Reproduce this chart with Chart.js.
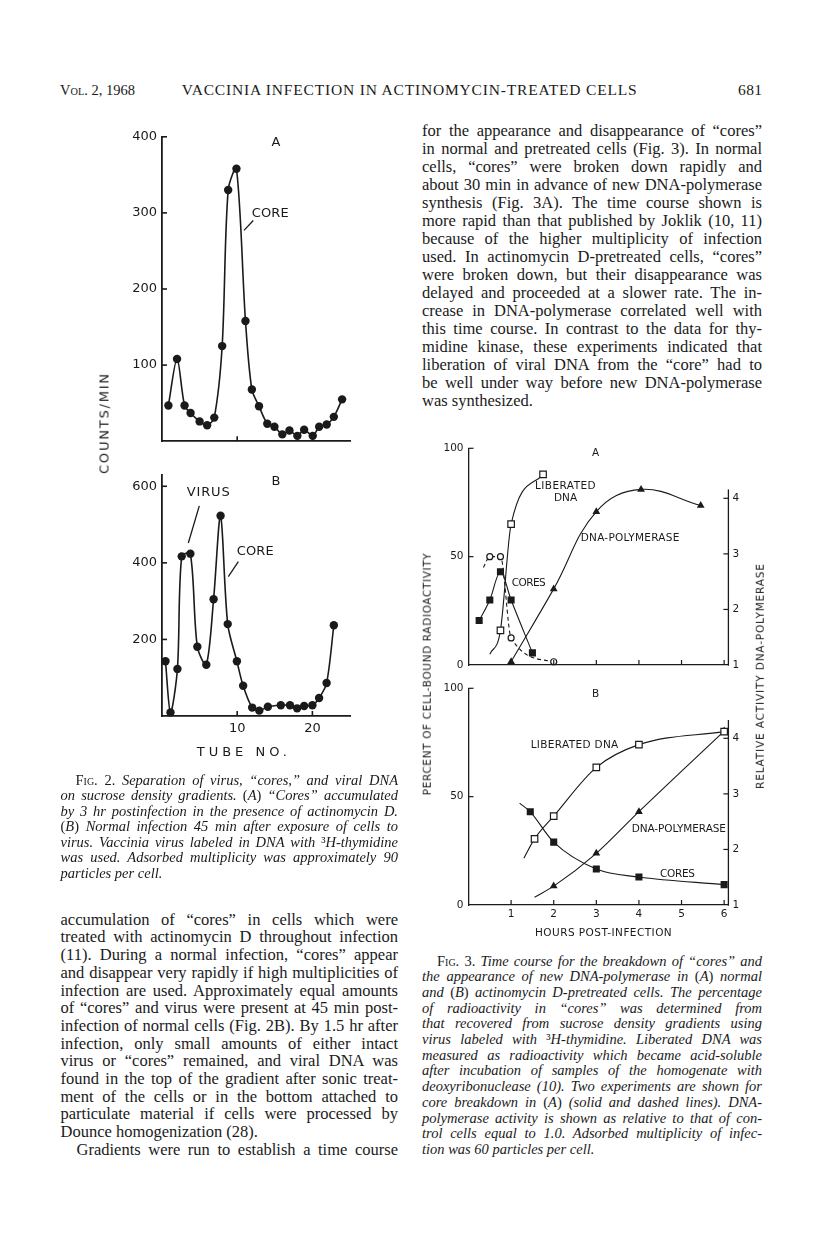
<!DOCTYPE html>
<html><head><meta charset="utf-8"><title>Vaccinia infection in actinomycin-treated cells</title>
<script src="https://cdn.jsdelivr.net/npm/chart.js@4.4.1/dist/chart.umd.min.js"></script>
<style>
html,body{margin:0;padding:0;background:#fff;}
body{width:816px;height:1240px;position:relative;overflow:hidden;}
.t{position:absolute;white-space:nowrap;font-family:"Liberation Serif","Times New Roman",serif;color:#1a1a1a;}
.it{font-style:italic;}
.sc{font-variant:small-caps;font-style:normal;}
.rm{font-style:normal;}
.lb{position:absolute;white-space:nowrap;font-family:"DejaVu Sans",sans-serif;color:#1a1a1a;}
canvas{position:absolute;}
</style></head><body>
<script>
// ---------------- DATA ----------------
// Fig. 2A : tube number vs counts/min
const tubesA  = [0.85, 2, 3, 3.8, 5, 6, 6.95, 8, 8.8, 9.9, 11.1, 11.95, 12.9, 14, 14.95, 16, 16.95, 18, 18.9, 20.05, 20.9, 21.9, 22.85, 23.95];
const countsA = [47, 108, 47, 37, 26, 21, 31, 125, 330, 358, 158, 68, 46, 23, 19, 9, 14, 7, 15, 7, 19, 22, 32, 55];
// Fig. 2B
const tubesB  = [0.46, 1.13, 2.05, 2.62, 3.77, 4.7, 5.89, 6.86, 7.79, 8.74, 9.96, 10.79, 11.99, 12.94, 14.08, 15.8, 17.02, 17.97, 18.9, 20.0, 20.89, 21.89, 22.85];
const countsB = [143, 9, 123, 417, 424, 181, 134, 305, 523, 240, 143, 79, 22, 14, 24, 28, 28, 20, 26, 28, 47, 86, 237];
const fig2TicksA = [100, 200, 300, 400];
const fig2TicksB = [200, 400, 600];
const tubeTicks  = [10, 20];

// Fig. 3A : hours post-infection
const hoursLibA    = [0.5, 0.75, 1.0, 1.75];
const pctLibA      = [5, 16, 65, 88];
const hoursCoresA1 = [0.25, 0.5, 0.75, 1.0, 1.5];
const pctCoresA1   = [20.5, 30, 43, 30, 5.6];
const hoursCoresA2 = [0.35, 0.5, 0.75, 1.0, 2.0];
const pctCoresA2   = [45, 50, 50, 12.5, 1.5];
const hoursPolA    = [1.0, 2.0, 3.0, 4.05, 5.45];
const relPolA      = [1.06, 2.37, 3.76, 4.16, 3.87];
// Fig. 3B
const hoursLibB    = [1.3, 1.55, 2.0, 3.0, 4.0, 6.0];
const pctLibB      = [21.6, 30.5, 41, 63.5, 74, 80];
const hoursCoresB  = [1.2, 1.45, 2.0, 3.0, 4.0, 6.0];
const pctCoresB    = [47, 43, 29, 16.6, 12.9, 9.4];
const hoursPolB    = [1.55, 2.0, 3.0, 4.0, 6.0];
const relPolB      = [1.14, 1.34, 1.93, 2.68, 4.13];
const hourTicks    = [1, 2, 3, 4, 5, 6];
const pctTicks     = [0, 50, 100];
const relTicks     = [1, 2, 3, 4];

// ---------------- TEXT ----------------
const headerLeft = '<span class="sc">Vol.</span> 2, 1968';
const headerMid = 'VACCINIA INFECTION IN ACTINOMYCIN-TREATED CELLS';
const headerPage = '681';
const rightText = [
 'for the appearance and disappearance of \u201Ccores\u201D',
 'in normal and pretreated cells (Fig. 3). In normal',
 'cells, \u201Ccores\u201D were broken down rapidly and',
 'about 30 min in advance of new DNA-polymerase',
 'synthesis (Fig. 3A). The time course shown is',
 'more rapid than that published by Joklik (10, 11)',
 'because of the higher multiplicity of infection',
 'used. In actinomycin D-pretreated cells, \u201Ccores\u201D',
 'were broken down, but their disappearance was',
 'delayed and proceeded at a slower rate. The in-',
 'crease in DNA-polymerase correlated well with',
 'this time course. In contrast to the data for thy-',
 'midine kinase, these experiments indicated that',
 'liberation of viral DNA from the \u201Ccore\u201D had to',
 'be well under way before new DNA-polymerase',
 'was synthesized.'
];
const leftText = [
 'accumulation of \u201Ccores\u201D in cells which were',
 'treated with actinomycin D throughout infection',
 '(11). During a normal infection, \u201Ccores\u201D appear',
 'and disappear very rapidly if high multiplicities of',
 'infection are used. Approximately equal amounts',
 'of \u201Ccores\u201D and virus were present at 45 min post-',
 'infection of normal cells (Fig. 2B). By 1.5 hr after',
 'infection, only small amounts of either intact',
 'virus or \u201Ccores\u201D remained, and viral DNA was',
 'found in the top of the gradient after sonic treat-',
 'ment of the cells or in the bottom attached to',
 'particulate material if cells were processed by',
 'Dounce homogenization (28).',
 'Gradients were run to establish a time course'
];
const fig2Cap = [
 '<span class="sc">Fig.</span> <span class="rm">2.</span> Separation of virus, \u201Ccores,\u201D and viral DNA',
 'on sucrose density gradients. <span class="rm">(</span>A<span class="rm">)</span> \u201CCores\u201D accumulated',
 'by 3 hr postinfection in the presence of actinomycin D.',
 '<span class="rm">(</span>B<span class="rm">)</span> Normal infection 45 min after exposure of cells to',
 'virus. Vaccinia virus labeled in DNA with <span class="rm">\u00B3</span>H-thymidine',
 'was used. Adsorbed multiplicity was approximately 90',
 'particles per cell.'
];
const fig3Cap = [
 '<span class="sc">Fig.</span> <span class="rm">3.</span> Time course for the breakdown of \u201Ccores\u201D and',
 'the appearance of new DNA-polymerase in <span class="rm">(</span>A<span class="rm">)</span> normal',
 'and <span class="rm">(</span>B<span class="rm">)</span> actinomycin D-pretreated cells. The percentage',
 'of radioactivity in \u201Ccores\u201D was determined from',
 'that recovered from sucrose density gradients using',
 'virus labeled with <span class="rm">\u00B3</span>H-thymidine. Liberated DNA was',
 'measured as radioactivity which became acid-soluble',
 'after incubation of samples of the homogenate with',
 'deoxyribonuclease (10). Two experiments are shown for',
 'core breakdown in <span class="rm">(</span>A<span class="rm">)</span> (solid and dashed lines). DNA-',
 'polymerase activity is shown as relative to that of con-',
 'trol cells equal to 1.0. Adsorbed multiplicity of infec-',
 'tion was 60 particles per cell.'
];

// ---------------- HELPERS ----------------
const INK = '#1a1a1a';
function addLine(html, x, yc, w, size, mode, cls) {
  const d = document.createElement('div');
  d.className = 't' + (cls ? ' ' + cls : '');
  d.style.fontSize = size + 'px';
  d.style.lineHeight = size + 'px';
  d.style.left = x + 'px';
  d.style.top = (yc - 0.56 * size) + 'px';
  d.innerHTML = html;
  document.body.appendChild(d);
  if (w) {
    const w0 = d.getBoundingClientRect().width;
    if (w0 > w) { d.style.transformOrigin = '0 50%'; d.style.transform = 'scaleX(' + (w / w0) + ')'; }
    else if (mode === 'justify') {
      const n = (d.textContent.match(/ /g) || []).length;
      if (n) d.style.wordSpacing = ((w - w0) / n) + 'px';
    } else if (mode === 'spread') {
      const n = d.textContent.length - 1;
      if (n > 0) d.style.letterSpacing = ((w - w0) / n) + 'px';
    }
  }
  return d;
}
function fitSpacing(d, text, w) {
  if (!w) return;
  const w0 = d.getBoundingClientRect().width;
  const n = text.length - 1;
  if (n > 0) { let ls = (w - w0) / n; ls = Math.max(-1.2, Math.min(4, ls)); d.style.letterSpacing = ls + 'px'; }
}
function addLabel(text, x, yc, w, size, align) {
  const d = document.createElement('div');
  d.className = 'lb'; d.textContent = text;
  d.style.fontSize = size + 'px'; d.style.lineHeight = size + 'px';
  document.body.appendChild(d);
  fitSpacing(d, text, w);
  const ww = d.getBoundingClientRect().width;
  d.style.left = (align === 'center' ? x - ww / 2 : x) + 'px';
  d.style.top = (yc - 0.48 * size) + 'px';
}
function addVLabel(text, cx, cy, len, size) {
  const d = document.createElement('div');
  d.className = 'lb'; d.textContent = text;
  d.style.fontSize = size + 'px'; d.style.lineHeight = size + 'px';
  document.body.appendChild(d);
  fitSpacing(d, text, len);
  d.style.left = cx + 'px'; d.style.top = cy + 'px';
  d.style.transform = 'translate(-50%,-50%) rotate(-90deg)';
}
function mkCanvas(left, top, w, h) {
  const c = document.createElement('canvas');
  c.width = w; c.height = h;
  c.style.left = left + 'px'; c.style.top = top + 'px';
  c.style.width = w + 'px'; c.style.height = h + 'px';
  document.body.appendChild(c);
  return c;
}
function pts(xs, ys) { return xs.map((x, i) => ({ x: x, y: ys[i] })); }

function figPlugin(cfg) {
  return {
    id: 'figDecor',
    afterDatasetsDraw(chart) {
      const ctx = chart.ctx, a = chart.chartArea;
      ctx.save();
      ctx.strokeStyle = INK; ctx.lineCap = 'butt';
      ctx.lineWidth = cfg.tickWidth;
      Object.values(chart.scales).forEach(s => {
        s.ticks.forEach(t => {
          if (t.value === s.min) return;
          const p = s.getPixelForValue(t.value);
          ctx.beginPath();
          if (s.isHorizontal()) { ctx.moveTo(p, a.bottom); ctx.lineTo(p, a.bottom - cfg.tickLen); }
          else if (s.position === 'left') { ctx.moveTo(a.left, p); ctx.lineTo(a.left + cfg.tickLen, p); }
          else { ctx.moveTo(a.right, p); ctx.lineTo(a.right - cfg.tickLen, p); }
          ctx.stroke();
        });
      });
      if (cfg.rightAxisTop !== undefined) {
        const s = chart.scales.y2;
        ctx.lineWidth = cfg.axisWidth;
        ctx.beginPath();
        ctx.moveTo(a.right, s.getPixelForValue(s.min) + cfg.axisWidth / 2);
        ctx.lineTo(a.right, s.getPixelForValue(cfg.rightAxisTop));
        ctx.stroke();
      }
      (cfg.leaders || []).forEach(L => {
        const sx = chart.scales.x, sy = chart.scales.y;
        ctx.lineWidth = cfg.leaderWidth;
        ctx.beginPath();
        ctx.moveTo(sx.getPixelForValue(L[0][0]), sy.getPixelForValue(L[0][1]));
        ctx.lineTo(sx.getPixelForValue(L[1][0]), sy.getPixelForValue(L[1][1]));
        ctx.stroke();
      });
      ctx.restore();
    }
  };
}
function scale(opts) {
  const vals = opts.tickVals;
  const s = {
    type: 'linear', min: opts.min, max: opts.max, position: opts.position,
    grid: { display: false, drawTicks: false },
    border: { display: opts.border !== false, color: INK, width: opts.bw },
    ticks: { display: opts.labels !== false, color: INK, font: opts.font, padding: opts.pad,
             autoSkip: false, maxRotation: 0, minRotation: 0, callback: v => String(v) },
    afterBuildTicks: sc => { sc.ticks = vals.map(v => ({ value: v })); }
  };
  if (opts.w !== undefined) s.afterFit = sc => { sc.width = opts.w; };
  if (opts.h !== undefined) s.afterFit = sc => { sc.height = opts.h; };
  return s;
}

Chart.defaults.font.family = 'DejaVu Sans';
Chart.defaults.color = INK;

// ---------------- FIG. 2 ----------------
const f2font = { family: 'DejaVu Sans', size: 13 };
function fig2Dataset(xs, ys) {
  return { data: pts(xs, ys), borderColor: INK, borderWidth: 1.6, tension: 0.3,
           pointRadius: 4.2, pointBackgroundColor: INK, pointBorderColor: INK, pointBorderWidth: 0,
           pointStyle: 'circle', clip: 10, fill: false };
}
function fig2Chart(canvas, xs, ys, ymax, yTicks, padTop, xh, showX, leaders) {
  return new Chart(canvas, {
    type: 'line',
    data: { datasets: [fig2Dataset(xs, ys)] },
    options: {
      responsive: false, animation: false, devicePixelRatio: 1,
      layout: { autoPadding: false, padding: { left: 0, right: 10, top: padTop, bottom: 0 } },
      plugins: { legend: { display: false }, tooltip: { enabled: false } },
      scales: {
        x: scale({ min: 0, max: 25, tickVals: tubeTicks, font: f2font, pad: 5, bw: 1.8, labels: showX, h: xh }),
        y: scale({ min: 0, max: ymax, tickVals: yTicks, font: f2font, pad: 5, bw: 1.8, w: 62, position: 'left' })
      }
    },
    plugins: [figPlugin({ tickWidth: 1.6, tickLen: 5, leaders: leaders, leaderWidth: 1.3 })]
  });
}
fig2Chart(mkCanvas(100, 124, 260, 330), tubesA, countsA, 400, fig2TicksA, 10, 10, false,
  [[[10.9, 277], [12.14, 290]]]);
fig2Chart(mkCanvas(100, 462, 260, 300), tubesB, countsB, 630, fig2TicksB, 9.7, 46, true,
  [[[3.5, 452], [4.96, 549]], [[8.82, 364], [10.15, 403]]]);

// ---------------- FIG. 3 ----------------
const f3font = { family: 'DejaVu Sans', size: 10.5 };
function ds3(xs, ys, axis, style, filled, radius, leadIn, dashed, monotone) {
  return {
    data: pts(xs, ys), yAxisID: axis,
    borderColor: INK, borderWidth: 1.1, borderDash: dashed ? [4, 3] : [],
    tension: 0.4, cubicInterpolationMode: monotone ? 'monotone' : 'default',
    pointStyle: style,
    pointRadius: xs.map((_, i) => (leadIn && i === 0) ? 0 : radius),
    pointBackgroundColor: filled ? INK : '#fff', pointBorderColor: INK, pointBorderWidth: filled ? 0 : 1.2,
    clip: 10, fill: false
  };
}
function fig3Chart(canvas, datasets, xh, showX, rightTop) {
  return new Chart(canvas, {
    type: 'line',
    data: { datasets: datasets },
    options: {
      responsive: false, animation: false, devicePixelRatio: 1,
      layout: { autoPadding: false, padding: { left: 0, right: 0, top: 10.3, bottom: 0 } },
      plugins: { legend: { display: false }, tooltip: { enabled: false } },
      scales: {
        x: scale({ min: 0, max: 6.1, tickVals: hourTicks, font: f3font, pad: 3, bw: 1.3, labels: showX, h: xh }),
        y: scale({ min: 0, max: 100, tickVals: pctTicks, font: f3font, pad: 5, bw: 1.3, w: 58.5, position: 'left' }),
        y2: scale({ min: 1, max: 4.9, tickVals: relTicks, font: f3font, pad: 4, bw: 1.3, w: 41.6, position: 'right', border: false })
      }
    },
    plugins: [figPlugin({ tickWidth: 1.2, tickLen: 5, rightAxisTop: rightTop, axisWidth: 1.3 })]
  });
}
fig3Chart(mkCanvas(410, 437, 360, 240), [
  ds3(hoursLibA, pctLibA, 'y', 'rect', false, 4.6, true, false, true),
  ds3(hoursCoresA1, pctCoresA1, 'y', 'rect', true, 5, false, false, true),
  ds3(hoursCoresA2, pctCoresA2, 'y', 'circle', false, 3, true, true, true),
  ds3(hoursPolA, relPolA, 'y2', 'triangle', true, 4.5, false, false, false)
], 12, false, 4.16);
fig3Chart(mkCanvas(410, 677, 360, 270), [
  ds3(hoursLibB, pctLibB, 'y', 'rect', false, 4.6, true, false, true),
  ds3(hoursCoresB, pctCoresB, 'y', 'rect', true, 5, true, false, true),
  ds3(hoursPolB, relPolB, 'y2', 'triangle', true, 4.5, true, false, true)
], 42, true, 4.33);

// ---------------- FIGURE LABELS ----------------
addLabel('A', 276, 141.7, null, 13, 'center');
addLabel('CORE', 251.7, 212.7, 37, 13, 'left');
addLabel('B', 276, 480, null, 13, 'center');
addLabel('VIRUS', 186.7, 491.7, 43, 13, 'left');
addLabel('CORE', 236.7, 550.7, 37, 13, 'left');
addLabel('TUBE NO.', 196.7, 751.7, 95, 13, 'left');
addVLabel('COUNTS/MIN', 104, 423, 100, 13);

addLabel('A', 595.7, 451.7, null, 10.5, 'center');
addLabel('LIBERATED', 535, 485, 60.7, 10.5, 'left');
addLabel('DNA', 554, 497.3, null, 10.5, 'left');
addLabel('DNA-POLYMERASE', 580.7, 536.7, 98.6, 10.5, 'left');
addLabel('CORES', 511.7, 581.7, 34, 10.5, 'left');
addLabel('B', 595.7, 692.7, null, 10.5, 'center');
addLabel('LIBERATED DNA', 530.7, 744, 87.6, 10.5, 'left');
addLabel('DNA-POLYMERASE', 631.7, 828.3, 94.3, 10.5, 'left');
addLabel('CORES', 660, 873.3, 35, 10.5, 'left');
addLabel('HOURS POST-INFECTION', 535, 931.7, 136.7, 10.5, 'left');
addVLabel('PERCENT OF CELL-BOUND RADIOACTIVITY', 427, 674, 242, 10.5);
addVLabel('RELATIVE ACTIVITY DNA-POLYMERASE', 760, 675.5, 225, 10.5);

// ---------------- PAGE TEXT ----------------
addLine(headerLeft, 60, 91, 75, 15.5, 'spread');
addLine(headerMid, 181.7, 91, 455, 15.5, 'spread');
addLine(headerPage, 738, 91, 24, 15.5, 'spread');

const RX = 422, RW = 340, LX = 60.5, LW = 337.5;
rightText.forEach((s, i) => {
  const last = i === rightText.length - 1;
  addLine(s, RX, 132.3 + 18.0 * i, RW, 16.5, last ? 'ragged' : 'justify');
});
leftText.forEach((s, i) => {
  const indent = i === 13 ? 16 : 0;
  const rag = i === 12;
  addLine(s, LX + indent, 921 + 17.7 * i, LW - indent, 16.5, rag ? 'ragged' : 'justify');
});
fig2Cap.forEach((s, i) => {
  const indent = i === 0 ? 15 : 0;
  const rag = i === fig2Cap.length - 1;
  addLine(s, LX + indent, 780.7 + 15.5 * i, LW - indent, 14.5, rag ? 'ragged' : 'justify', 'it');
});
fig3Cap.forEach((s, i) => {
  const indent = i === 0 ? 15 : 0;
  const rag = i === fig3Cap.length - 1;
  addLine(s, RX + indent, 961.7 + 15.7 * i, RW - indent, 14.5, rag ? 'ragged' : 'justify', 'it');
});
</script>
</body></html>
